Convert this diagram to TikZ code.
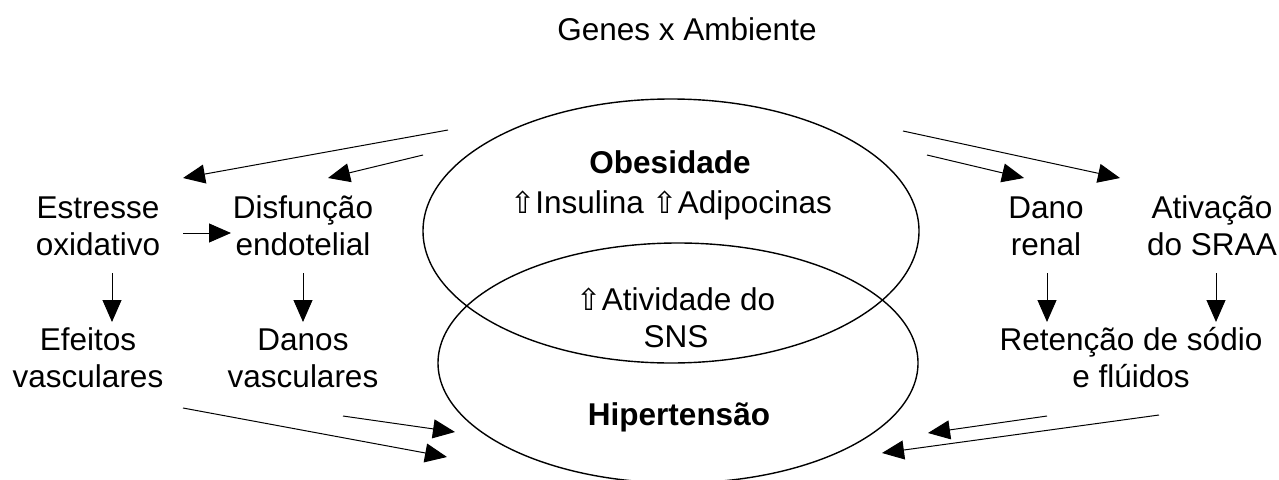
\documentclass[tikz,border=0pt]{standalone}
\usepackage{fontspec}
\setmainfont{Liberation Sans}
\newfontfamily\symfont{DejaVu Sans}
\usetikzlibrary{arrows.meta}
\newcommand{\upar}{{\fontsize{30}{30}\selectfont\symfont ⇧}}
\begin{document}
\begin{tikzpicture}[x=1pt,y=-1pt,
  lbl/.style={font=\fontsize{31.5}{37}\selectfont, align=center, inner sep=0pt, anchor=base},
  arr/.style={line width=1pt, -{Triangle[length=22pt,width=19pt]}},
  ell/.style={line width=1.4pt}]
\useasboundingbox (0,0) rectangle (1279,479);
\begin{scope}
\clip (0,0) rectangle (1279,479);
\draw[ell] (671,231) ellipse [x radius=248pt, y radius=132pt];
\draw[ell] (678,363) ellipse [x radius=240pt, y radius=120pt];
\end{scope}
% texts (multi-line nodes: base = last line)
\node[lbl] (genes) at (687,40) {Genes x Ambiente};
\node[lbl] (obes) at (670,173) {\bfseries Obesidade};
\node[lbl] (insul) at (671,213) {\upar Insulina \upar Adipocinas};
\node[lbl] (sns) at (676,347) {\upar Atividade do\\SNS};
\node[lbl] (hiper) at (679,425) {\bfseries Hipertensão};
\node[lbl] (estr) at (98,255) {Estresse\\oxidativo};
\node[lbl] (disf) at (303,255) {Disfunção\\endotelial};
\node[lbl] (efei) at (88,387) {Efeitos\\vasculares};
\node[lbl] (danos) at (303,387) {Danos\\vasculares};
\node[lbl] (renal) at (1046,255) {Dano\\renal};
\node[lbl] (sraa) at (1212,255) {Ativação\\do SRAA};
\node[lbl] (ret) at (1131,387) {Retenção de sódio\\e flúidos};
% arrow endpoints
\coordinate (oL1) at (448,130); \coordinate (tEstr) at (183,178);
\coordinate (oL2) at (423,155); \coordinate (tDisf) at (328,178);
\coordinate (sEstr) at (183,233); \coordinate (tDisfH) at (231,233);
\coordinate (dE1) at (112,273); \coordinate (dE2) at (112,322);
\coordinate (dD1) at (303,273); \coordinate (dD2) at (303,322);
\coordinate (sEfei) at (183,408); \coordinate (hL1) at (447,457);
\coordinate (sDanos) at (343,416); \coordinate (hL2) at (455,432);
\coordinate (oR1) at (903,131); \coordinate (tSraa) at (1120,178);
\coordinate (oR2) at (927,155); \coordinate (tRenal) at (1024,178);
\coordinate (dR1) at (1047,273); \coordinate (dR2) at (1047,322);
\coordinate (dS1) at (1216,273); \coordinate (dS2) at (1216,322);
\coordinate (sRet1) at (1047,416); \coordinate (hR2) at (928,433);
\coordinate (sRet2) at (1159,415); \coordinate (hR1) at (882,453);
\draw[arr] (oL1) -- (tEstr);
\draw[arr] (oL2) -- (tDisf);
\draw[arr] (sEstr) -- (tDisfH);
\draw[arr] (dE1) -- (dE2);
\draw[arr] (dD1) -- (dD2);
\draw[arr] (sEfei) -- (hL1);
\draw[arr] (sDanos) -- (hL2);
\draw[arr] (oR1) -- (tSraa);
\draw[arr] (oR2) -- (tRenal);
\draw[arr] (dR1) -- (dR2);
\draw[arr] (dS1) -- (dS2);
\draw[arr] (sRet1) -- (hR2);
\draw[arr] (sRet2) -- (hR1);
\end{tikzpicture}
\end{document}
